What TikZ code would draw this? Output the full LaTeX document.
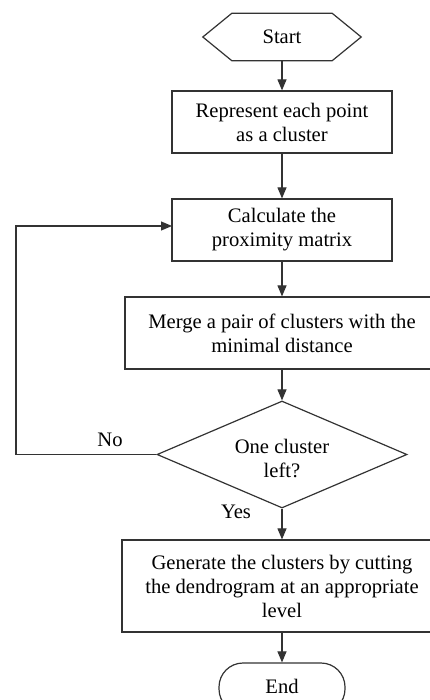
\documentclass[tikz,border=0pt]{standalone}
\usepackage{fontspec}
\setmainfont{Liberation Serif}
\usetikzlibrary{arrows.meta,shapes.geometric}
\definecolor{linec}{HTML}{333333}
\tikzset{
  every node/.style={font=\fontsize{20.6}{24}\selectfont, text=black},
  procbox/.style={draw=linec, line width=1.2pt, rectangle, align=center, inner sep=0pt},
  decbox/.style={draw=linec, line width=1.2pt, diamond, align=center, inner sep=0pt},
  termbox/.style={draw=linec, line width=1.2pt, rectangle, rounded corners=24pt, inner sep=0pt},
  flow/.style={draw=linec, line width=1.1pt, -{Triangle[length=11pt,width=9pt]}},
  plainline/.style={draw=linec, line width=1.1pt},
  lbl/.style={inner sep=0pt}
}
\begin{document}
\begin{tikzpicture}[x=1pt,y=-1pt]
\useasboundingbox (0,0) rectangle (430,700);
\clip (0,0) rectangle (430,700);
\fill[white] (0,0) rectangle (430,700);
% Start hexagon
\node[inner sep=0pt, minimum width=158pt, minimum height=47pt] (start) at (282,37) {Start};
\draw[plainline, line width=1.2pt] (start.west) -- ([xshift=29pt]start.north west) -- ([xshift=-29pt]start.north east)
  -- (start.east) -- ([xshift=-29pt]start.south east) -- ([xshift=29pt]start.south west) -- cycle;
% Boxes
\node[procbox, minimum width=220pt, minimum height=62pt] (rep) at (282,122) {Represent each point\\as a cluster};
\node[procbox, minimum width=220pt, minimum height=62pt] (calc) at (282,230) {Calculate the\\proximity matrix};
\node[procbox, minimum width=314pt, minimum height=72pt] (merge) at (282,333) {Merge a pair of clusters with the\\minimal distance};
\node[decbox, minimum width=250pt, minimum height=107pt] (dec) at (282,454.5) {};
\node[lbl] (dectext) at (282,458) [align=center] {One cluster\\left?};
\node[procbox, minimum width=320pt, minimum height=92pt] (gen) at (282,586) {Generate the clusters by cutting\\the dendrogram at an appropriate\\level};
\node[termbox, minimum width=126pt, minimum height=50pt] (end) at (282,688) {};
\node[lbl] (endtext) at (282,686.5) {End};
% Labels
\node[lbl] (no) at (110,440) {No};
\node[lbl] (yes) at (236,512) {Yes};
% Connectors
\coordinate (c1) at (16,454.5);
\coordinate (c2) at (16,226);
\coordinate (c3) at (172,226);
\draw[flow] (start.south) -- (rep.north);
\draw[flow] (rep.south) -- (calc.north);
\draw[flow] (calc.south) -- (merge.north);
\draw[flow] (merge.south) -- (dec.north);
\draw[flow] (dec.south) -- (gen.north);
\draw[flow] (gen.south) -- (end.north);
\draw[flow] (dec.west) -- (c1) -- (c2) -- (c3);
\end{tikzpicture}
\end{document}
